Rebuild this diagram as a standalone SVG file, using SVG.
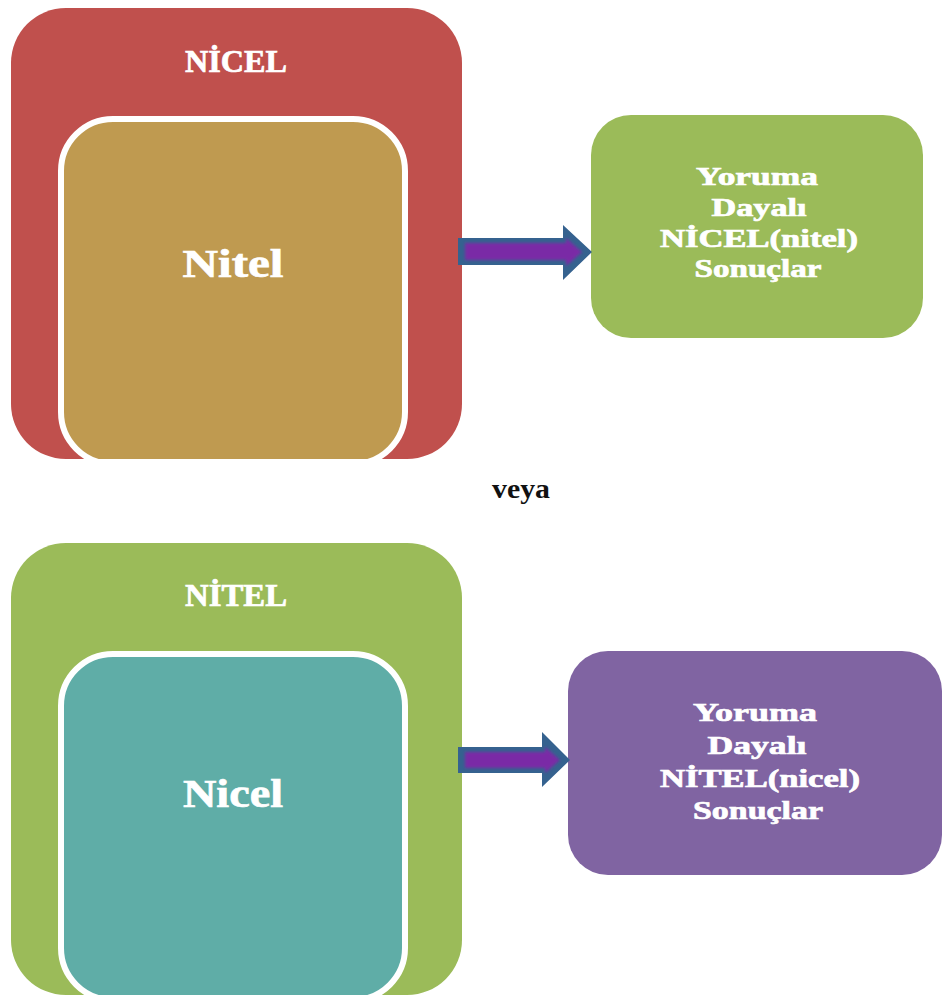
<svg xmlns="http://www.w3.org/2000/svg" width="943" height="997" viewBox="0 0 943 997">
  <style>
    .lbl { font-family: "Liberation Serif", "Times New Roman", serif; font-weight: bold; fill: #ffffff; stroke: #ffffff; stroke-width: 0.7; text-anchor: middle; }
    .inner { stroke: #ffffff; stroke-width: 6; }
    .arrow-edge { fill: #35628f; }
    .arrow-core { fill: #7a2aa6; filter: url(#soft); }
    .dark { font-family: "Liberation Serif", "Times New Roman", serif; font-weight: bold; fill: #111111; text-anchor: middle; }
  </style>
  <defs>
    <filter id="soft" x="-10%" y="-30%" width="120%" height="160%">
      <feGaussianBlur stdDeviation="1.6"/>
    </filter>
    <clipPath id="clipTop"><rect x="0" y="0" width="470" height="459"/></clipPath>
    <clipPath id="clipBottom"><rect x="0" y="520" width="470" height="475"/></clipPath>
  </defs>

  <rect width="943" height="997" fill="#ffffff"/>

  <!-- upper nested block: quantitative frame around qualitative core -->
  <g id="nicel-outer" clip-path="url(#clipTop)">
    <rect x="11" y="8" width="451" height="451" rx="55" fill="#c0504d"/>
    <text class="lbl" x="236" y="72" font-size="32" textLength="102" lengthAdjust="spacingAndGlyphs">NİCEL</text>
  </g>
  <g id="nitel-inner" clip-path="url(#clipTop)">
    <rect class="inner" x="61" y="119" width="344" height="345" rx="52" fill="#bf9a50"/>
    <text class="lbl" x="233" y="277" font-size="40" textLength="101" lengthAdjust="spacingAndGlyphs">Nitel</text>
  </g>

  <g id="result-top">
    <rect x="591" y="115" width="332" height="223" rx="40" fill="#9bbb59"/>
    <text class="lbl" x="757" y="185" font-size="25" textLength="122" lengthAdjust="spacingAndGlyphs">Yoruma</text>
    <text class="lbl" x="759" y="216" font-size="25" textLength="95" lengthAdjust="spacingAndGlyphs">Dayalı</text>
    <text class="lbl" x="759" y="247" font-size="25" textLength="198" lengthAdjust="spacingAndGlyphs">NİCEL(nitel)</text>
    <text class="lbl" x="758" y="277" font-size="25" textLength="127" lengthAdjust="spacingAndGlyphs">Sonuçlar</text>
  </g>

  <g id="separator">
    <text class="dark" x="521" y="498" font-size="28" textLength="58" lengthAdjust="spacingAndGlyphs">veya</text>
  </g>

  <!-- lower nested block: qualitative frame around quantitative core -->
  <g id="nitel-outer" clip-path="url(#clipBottom)">
    <rect x="11" y="543" width="451" height="452" rx="55" fill="#9bbb59"/>
    <text class="lbl" x="236" y="606" font-size="32" textLength="102" lengthAdjust="spacingAndGlyphs">NİTEL</text>
  </g>
  <g id="nicel-inner" clip-path="url(#clipBottom)">
    <rect class="inner" x="61" y="654" width="344" height="346" rx="52" fill="#5fada7"/>
    <text class="lbl" x="233" y="807" font-size="40" textLength="100" lengthAdjust="spacingAndGlyphs">Nicel</text>
  </g>

  <g id="result-bottom">
    <rect x="568" y="651" width="374" height="224" rx="40" fill="#8064a2"/>
    <text class="lbl" x="755" y="721" font-size="25" textLength="124" lengthAdjust="spacingAndGlyphs">Yoruma</text>
    <text class="lbl" x="757" y="754" font-size="25" textLength="99" lengthAdjust="spacingAndGlyphs">Dayalı</text>
    <text class="lbl" x="760" y="787" font-size="25" textLength="200" lengthAdjust="spacingAndGlyphs">NİTEL(nicel)</text>
    <text class="lbl" x="758" y="819" font-size="25" textLength="130" lengthAdjust="spacingAndGlyphs">Sonuçlar</text>
  </g>

  <!-- connectors: block arrows towards the result boxes -->
  <g id="connectors">
    <polygon class="arrow-edge" points="458,238 563,238 563,225 592,252 563,280 563,265 458,265"/>
    <polygon class="arrow-core" points="465,243 566,243 566,238 582,252 566,266 566,260 465,260"/>
    <polygon class="arrow-edge" points="458,747 542,747 542,732 570,760 542,787 542,773 458,773"/>
    <polygon class="arrow-core" points="465,752 545,752 545,747 560,760 545,773 545,768 465,768"/>
  </g>
</svg>
